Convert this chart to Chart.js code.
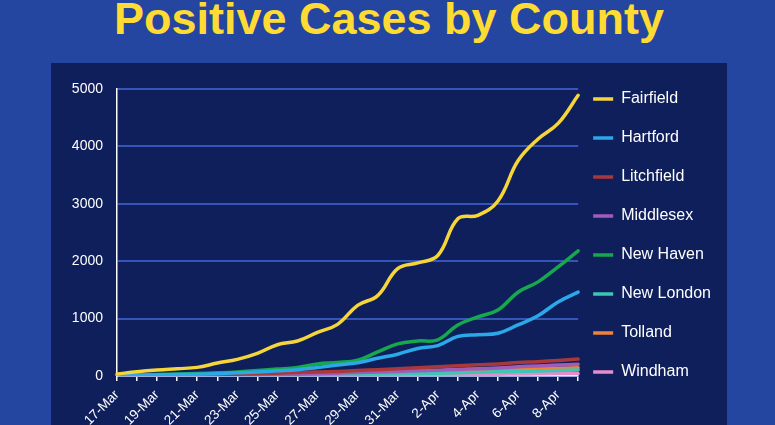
<!DOCTYPE html>
<html>
<head>
<meta charset="utf-8">
<script src="https://cdn.jsdelivr.net/npm/chart.js@4/dist/chart.umd.min.js"></script>
<style>
    html, body { margin: 0; padding: 0; }
    body {
        width: 775px; height: 425px; overflow: hidden; position: relative;
        background: #2446a0;
        font-family: "Liberation Sans", Arial, sans-serif;
    }
    #title {
        position: absolute; left: 0; top: -3px; width: 778px;
        text-align: center; line-height: 44px;
        font-size: 45px; font-weight: bold; color: #ffdb33;
    }
    #panel {
        position: absolute; left: 51px; top: 63px; width: 676px; height: 400px;
        background: #0e1f5c;
    }
    #chartBox {
        position: absolute; left: 0; top: 46px; width: 775px; height: 379px;
    }
</style>
</head>
<body>
<div id="title">Positive Cases by County</div>
<div id="panel"></div>
<div id="chartBox"><canvas id="casesChart"></canvas></div>
<script>
const dates = ['17-Mar', '18-Mar', '19-Mar', '20-Mar', '21-Mar', '22-Mar', '23-Mar', '24-Mar',
    '25-Mar', '26-Mar', '27-Mar', '28-Mar', '29-Mar', '30-Mar', '31-Mar', '1-Apr',
    '2-Apr', '3-Apr', '4-Apr', '5-Apr', '6-Apr', '7-Apr', '8-Apr', '9-Apr'];

const fairfield = [35, 75, 105, 127, 150, 225, 290, 395, 545, 610, 760, 900, 1230, 1400, 1870, 1970, 2100, 2740, 2800, 3050, 3750, 4130, 4400, 4890];
const hartford = [10, 15, 20, 25, 30, 40, 55, 70, 90, 110, 150, 190, 230, 310, 380, 480, 530, 690, 720, 745, 890, 1050, 1290, 1460];
const litchfield = [3, 5, 8, 12, 18, 25, 32, 40, 50, 60, 70, 80, 95, 110, 125, 145, 160, 180, 195, 210, 235, 250, 270, 295];
const middlesex = [2, 3, 4, 5, 7, 10, 15, 20, 25, 30, 40, 50, 60, 70, 80, 90, 100, 115, 125, 140, 160, 175, 190, 205];
const newHaven = [12, 18, 25, 35, 45, 55, 70, 95, 120, 150, 210, 235, 275, 420, 560, 610, 630, 890, 1030, 1150, 1460, 1640, 1900, 2180];
const newLondon = [0, 1, 2, 3, 4, 5, 7, 9, 12, 15, 18, 22, 28, 33, 38, 45, 50, 58, 65, 72, 80, 88, 95, 105];
const tolland = [1, 2, 3, 4, 6, 8, 12, 15, 20, 25, 30, 38, 45, 55, 65, 75, 85, 95, 105, 110, 120, 128, 135, 145];
const windham = [0, 0, 1, 1, 2, 3, 4, 5, 6, 8, 10, 12, 14, 16, 18, 20, 22, 25, 28, 32, 35, 38, 42, 45];

const counties = ['Fairfield', 'Hartford', 'Litchfield', 'Middlesex', 'New Haven', 'New London', 'Tolland', 'Windham'];
const countyData = [fairfield, hartford, litchfield, middlesex, newHaven, newLondon, tolland, windham];
const countyColors = ['#f5d53a', '#2ba8e8', '#a8393b', '#a05cb8', '#17a84d', '#3cc6b4', '#f0833a', '#e98ccb'];

const yTicks = [0, 1000, 2000, 3000, 4000, 5000];

Chart.defaults.font.family = '"Liberation Sans", Arial, sans-serif';
Chart.defaults.color = '#ffffff';

// the built-in legend keeps its padding on the left too, pull it closer to the plot
const legendShift = {
    id: 'legendShift',
    afterLayout(chart) {
        chart.legend.left -= 8;
        chart.legend.right -= 8;
    }
};

const datasets = counties.map((name, i) => ({
    label: name,
    data: countyData[i],
    borderColor: countyColors[i],
    backgroundColor: countyColors[i],
    borderWidth: 3.5,
    borderCapStyle: 'round',
    pointRadius: 0,
    pointStyle: 'line',
    tension: 0.4,
    fill: false
}));

new Chart(document.getElementById('casesChart'), {
    type: 'line',
    data: { labels: dates, datasets },
    plugins: [legendShift],
    options: {
        responsive: true,
        maintainAspectRatio: false,
        animation: false,
        layout: { padding: { left: 0, right: 46, top: 0, bottom: 0 } },
        plugins: {
            tooltip: { enabled: false },
            legend: {
                position: 'right',
                labels: {
                    usePointStyle: true,
                    pointStyleWidth: 20,
                    padding: 23,
                    color: '#ffffff',
                    font: { size: 16 }
                }
            }
        },
        scales: {
            xTop: {
                type: 'category',
                position: 'top',
                grid: { display: false },
                border: { display: false },
                ticks: { display: false },
                afterFit: (s) => { s.height = 43; }
            },
            x: {
                grid: { drawOnChartArea: false, drawTicks: true, tickLength: 5, color: '#ffffff', lineWidth: 1.5 },
                border: { display: true, color: '#ffffff', width: 1.5 },
                ticks: {
                    autoSkip: false,
                    maxRotation: 45,
                    minRotation: 45,
                    padding: 6,
                    color: '#ffffff',
                    font: { size: 13.5 },
                    callback: function(value, index) {
                        return index % 2 === 0 ? dates[index] : '';
                    }
                },
                afterFit: (s) => { s.height = 49; }
            },
            y: {
                min: 0,
                max: 5000,
                afterBuildTicks: (s) => { s.ticks = yTicks.map(v => ({ value: v })); },
                grid: { color: '#3556b8', lineWidth: 2, drawTicks: false },
                border: { display: true, color: '#ffffff', width: 1.5 },
                ticks: {
                    padding: 14,
                    color: '#ffffff',
                    font: { size: 14 },
                    callback: (value) => String(value)
                },
                afterFit: (s) => { s.width = 117; }
            }
        }
    }
});
</script>
</body>
</html>
